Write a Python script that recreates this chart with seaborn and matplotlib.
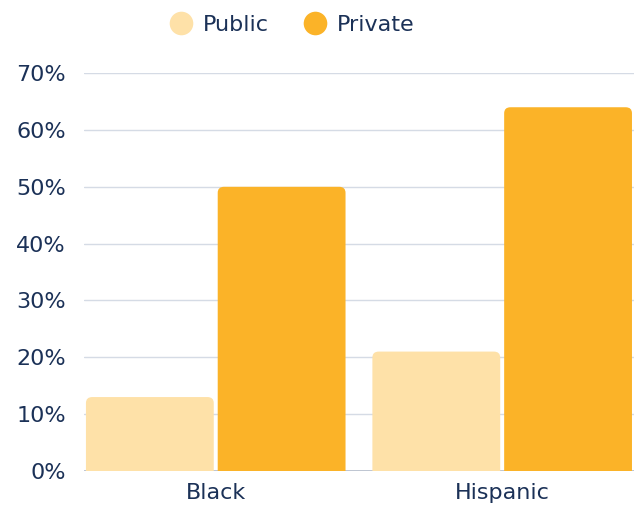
import pandas as pd
import matplotlib
matplotlib.use('Agg')
import matplotlib.pyplot as plt
import seaborn as sns
from matplotlib.patches import FancyBboxPatch
from matplotlib.lines import Line2D

# Data
groups = ['Black', 'Hispanic']
public = [13, 21]
private = [50, 64]
hue_names = ['Public', 'Private']
colors = ['#FEE1A8', '#FBB328']
y_ticks = [0, 10, 20, 30, 40, 50, 60, 70]

df = pd.DataFrame({
    'Group': groups * 2,
    'Sector': ['Public'] * len(groups) + ['Private'] * len(groups),
    'Share': public + private,
})

sns.set_theme(style='white')
plt.rcParams['font.family'] = ['DejaVu Sans']
text_color = '#1B3157'

fig = plt.figure(figsize=(6.41, 5.08), dpi=100)
ax = fig.add_axes([0.131, 0.073, 0.858, 0.783])

sns.barplot(data=df, x='Group', y='Share', hue='Sector', hue_order=hue_names,
            palette=colors, width=0.92, gap=0.03, saturation=1,
            legend=False, ax=ax)

# rounded top corners
for p in list(ax.patches):
    x, w, h = p.get_x(), p.get_width(), p.get_height()
    fc = p.get_facecolor()
    p.remove()
    rb = FancyBboxPatch((x, -3), w, h + 3,
                        boxstyle='round,pad=0,rounding_size=0.022',
                        mutation_aspect=48, facecolor=fc, edgecolor='none',
                        zorder=3)
    ax.add_patch(rb)

ax.set_xlim(-0.46, 1.46)
ax.set_ylim(0, 70)
ax.set_yticks(y_ticks)
ax.set_yticklabels([f'{v}%' for v in y_ticks])
ax.yaxis.grid(True, color='#D5DBE5', linewidth=1)
ax.set_axisbelow(True)
ax.axhline(0, color='#B5BDCB', linewidth=1.2, zorder=2)
for s in ax.spines.values():
    s.set_visible(False)
ax.tick_params(axis='both', length=0, labelsize=16, colors=text_color)
ax.tick_params(axis='y', pad=13)
ax.tick_params(axis='x', pad=9)
ax.set_xlabel('')
ax.set_ylabel('')

handles = [Line2D([0], [0], marker='o', linestyle='', markersize=17,
                  markerfacecolor=c, markeredgecolor='none') for c in colors]
fig.legend(handles, hue_names, loc='center', bbox_to_anchor=(0.455, 0.951),
           ncol=2, frameon=False, fontsize=16, labelcolor=text_color,
           handlelength=1.1, handletextpad=0.45, columnspacing=1.5)

fig.savefig('out.png', dpi=100)
